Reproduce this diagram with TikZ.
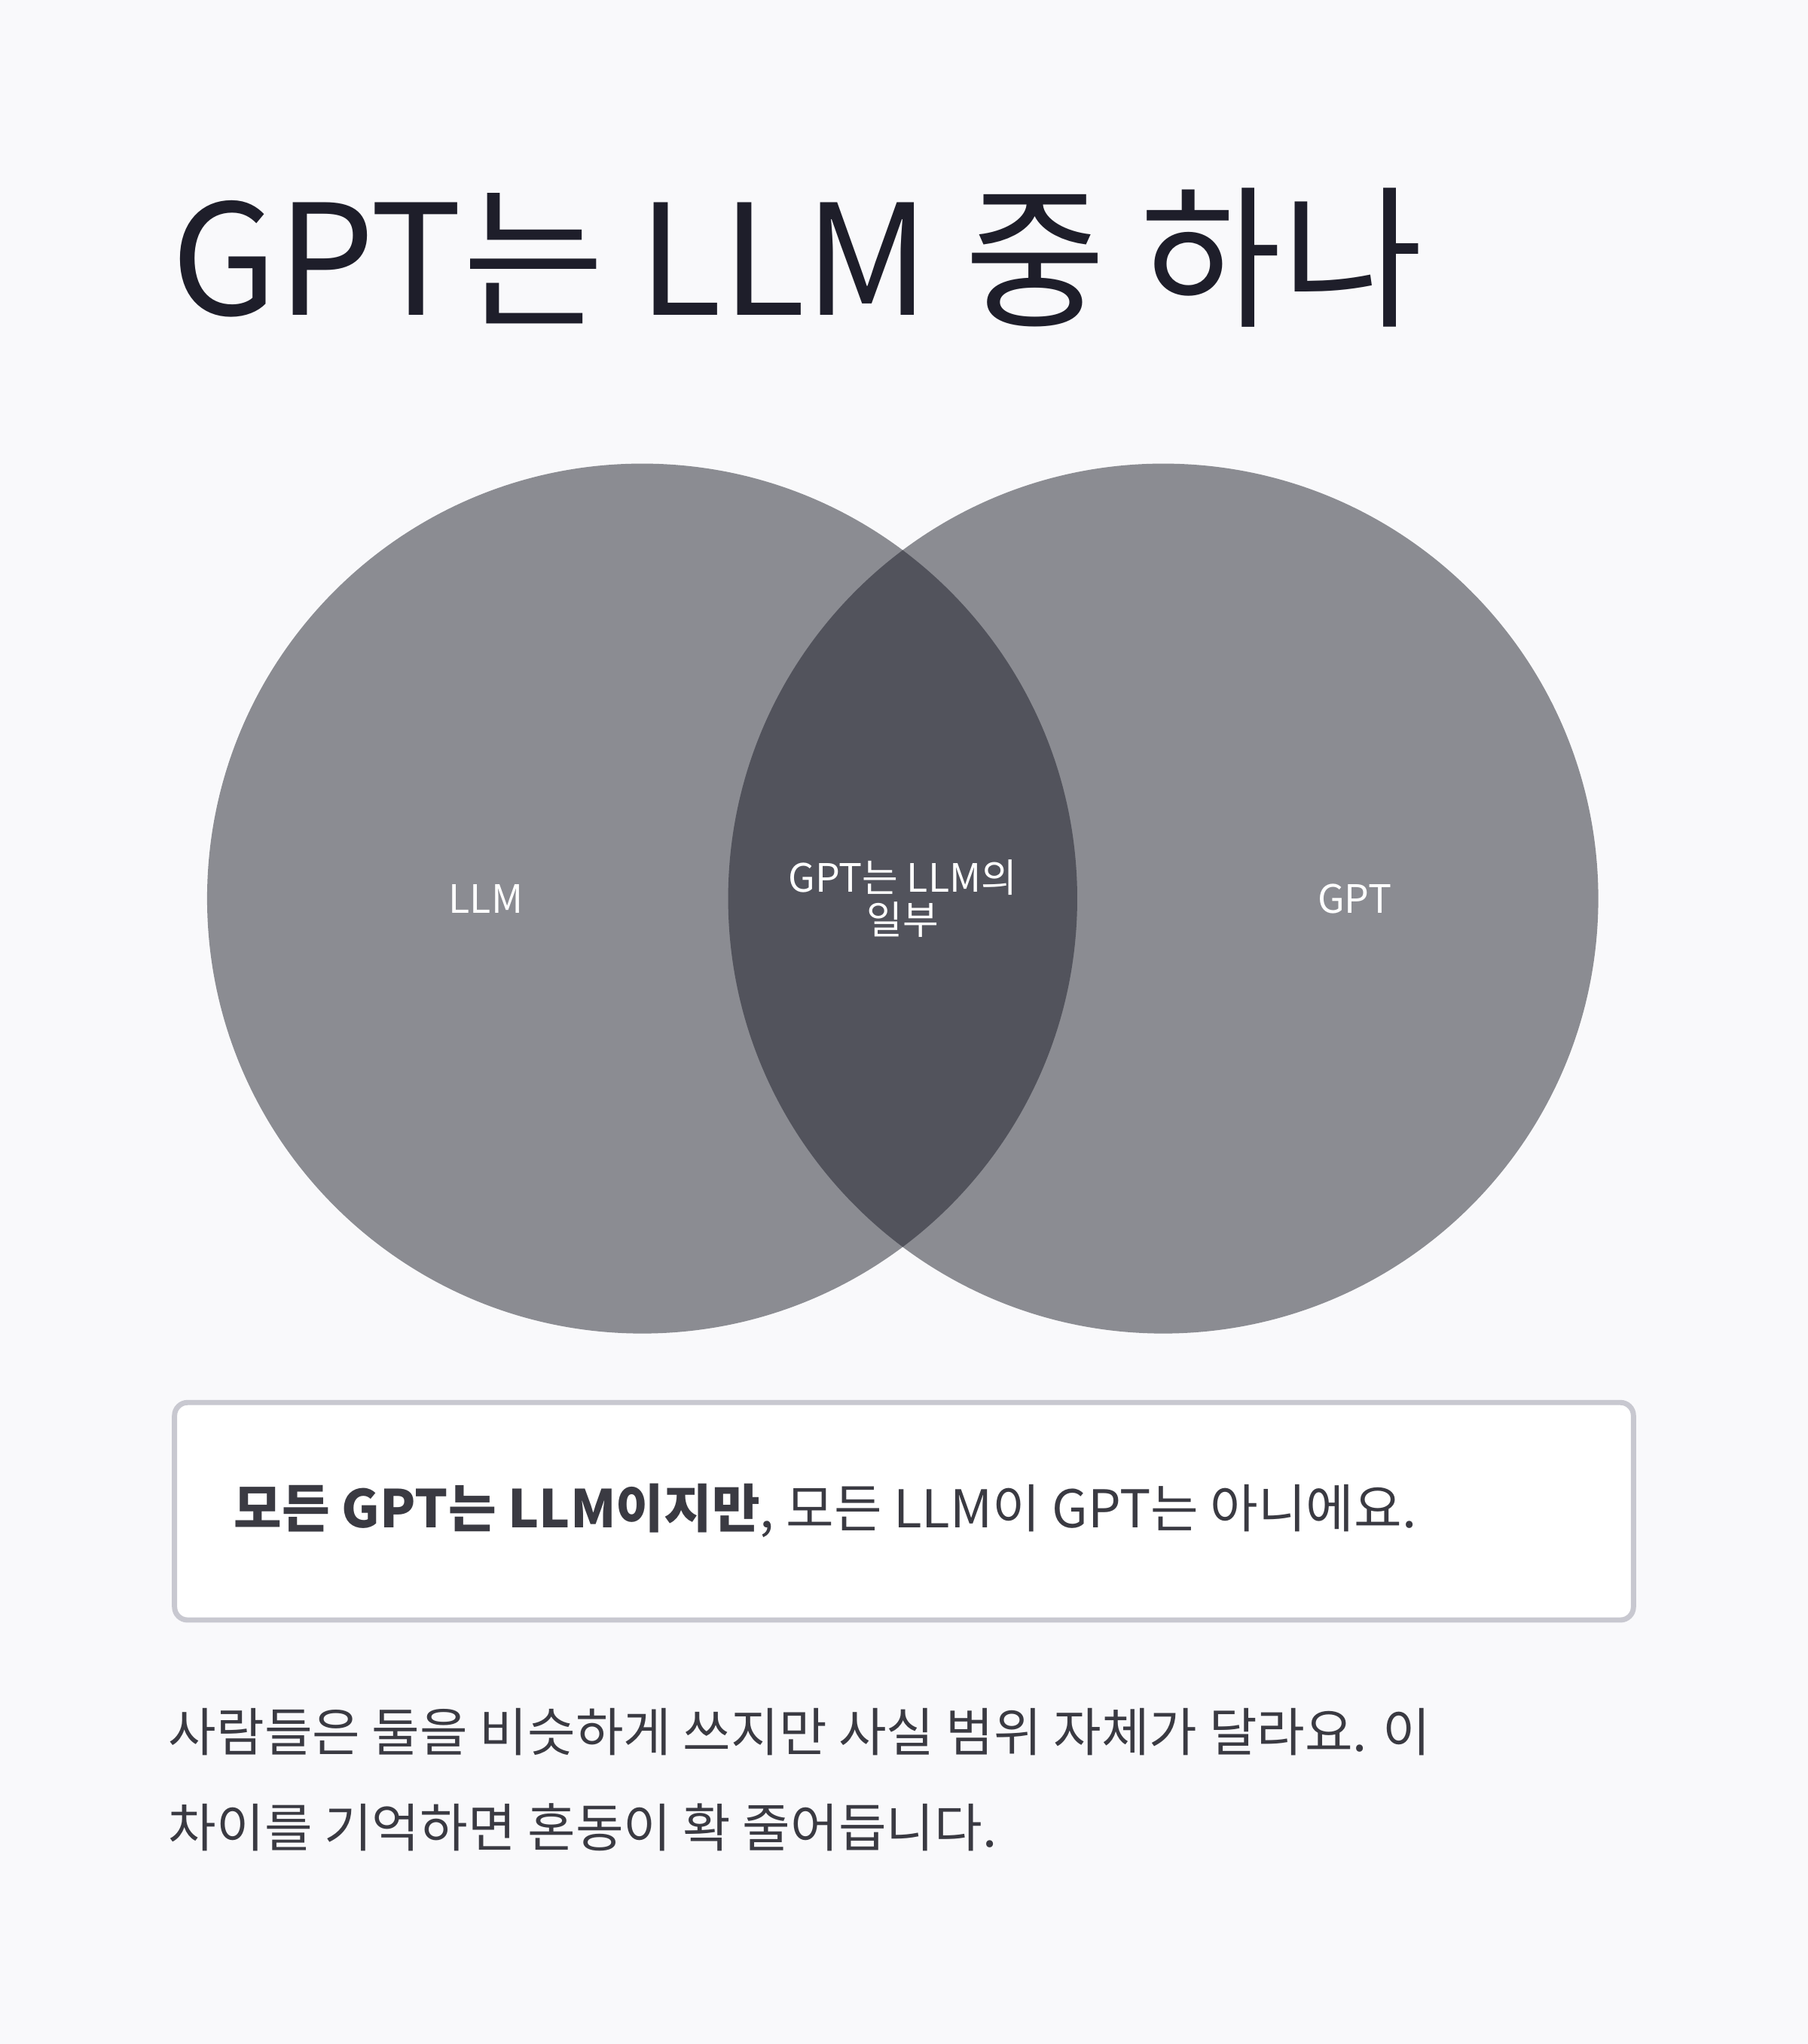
\documentclass[tikz,border=0pt]{standalone}
\usepackage{fontspec}
\setmainfont{Noto Sans CJK KR}
\definecolor{bg}{HTML}{F9F9FB}
\definecolor{circ}{HTML}{8B8C92}
\definecolor{inter}{HTML}{52535C}
\definecolor{ink}{HTML}{1E1E2A}
\definecolor{body}{HTML}{3A3A42}
\definecolor{boxline}{HTML}{C8C8D0}
\tikzset{lbl/.style={text=white,font=\fontsize{30}{36}\selectfont,align=center}}
\begin{document}
\begin{tikzpicture}[x=1pt,y=-1pt]
\fill[bg] (0,0) rectangle (1388,1569.6);
\useasboundingbox (0,0) rectangle (1388,1569.6);
\node[anchor=west,text=ink,font=\fontsize{118}{130}\selectfont] (title) at (128,198) {GPT는 LLM 중 하나};
\fill[circ] (493,690) circle (334);
\fill[circ] (893,690) circle (334);
\begin{scope}
\clip (493,690) circle (334);
\fill[inter] (893,690) circle (334);
\end{scope}
\node[lbl] (l) at (373,690) {LLM};
\node[lbl] (m) at (693,690) {GPT는 LLM의\\[-4pt]일부};
\node[lbl] (g) at (1040,690) {GPT};
\draw[boxline,line width=4,fill=white,rounded corners=10] (134,1077) rectangle (1254,1244);
\node[anchor=west,text=body,font=\fontsize{40}{48}\selectfont] (note) at (176,1160) {\textbf{모든 GPT는 LLM이지만}, 모든 LLM이 GPT는 아니에요.};
\node[anchor=west,text=body,font=\fontsize{40}{48}\selectfont] (p1) at (126,1330) {사람들은 둘을 비슷하게 쓰지만 사실 범위 자체가 달라요. 이};
\node[anchor=west,text=body,font=\fontsize{40}{48}\selectfont] (p2) at (126,1403) {차이를 기억하면 혼동이 확 줄어듭니다.};
\end{tikzpicture}
\end{document}
